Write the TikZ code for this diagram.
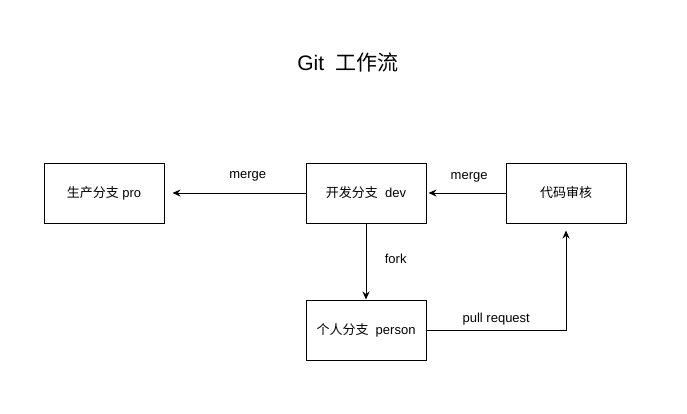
\documentclass[tikz,border=0pt]{standalone}
\usepackage{fontspec}
\setmainfont{Liberation Sans}
\newfontfamily\cjk{Noto Sans CJK SC}
\usetikzlibrary{positioning,arrows.meta}

\begin{document}
\begin{tikzpicture}[
    x=1pt, y=1pt,
    >={Stealth[length=8pt,width=7pt]},
    line width=1pt,
    branch/.style={
        rectangle,
        draw,
        minimum width=120pt,
        minimum height=60pt,
        align=center,
        font=\fontsize{13}{15}\selectfont
    },
    lbl/.style={font=\fontsize{13}{15}\selectfont}
]
\useasboundingbox (0,0) rectangle (687,-413);

\node[font=\fontsize{21}{25}\selectfont] (title) at (348,-63) {Git\ \ {\cjk 工作流}};

\node[branch] (pro) at (104,-193) {{\cjk 生产分支} pro};
\node[branch, right=141pt of pro] (dev) {{\cjk 开发分支}\ \ dev};
\node[branch, right=79pt of dev] (review) {{\cjk 代码审核}};
\node[branch, below=76pt of dev] (person) {{\cjk 个人分支}\ \ person};

\draw[->, shorten >=8pt] (dev) -- node[lbl, above=8pt, pos=0.41] {merge} (pro);
\draw[->, shorten >=2pt] (review) -- node[lbl, above=7pt, pos=0.46] {merge} (dev);
\draw[->] (dev) -- node[lbl, right=15pt, pos=0.47] {fork} (person);
\draw[->, shorten >=7pt] (person) -| node[lbl, above=1pt, pos=0.25] {pull request} (review);

\end{tikzpicture}
\end{document}
